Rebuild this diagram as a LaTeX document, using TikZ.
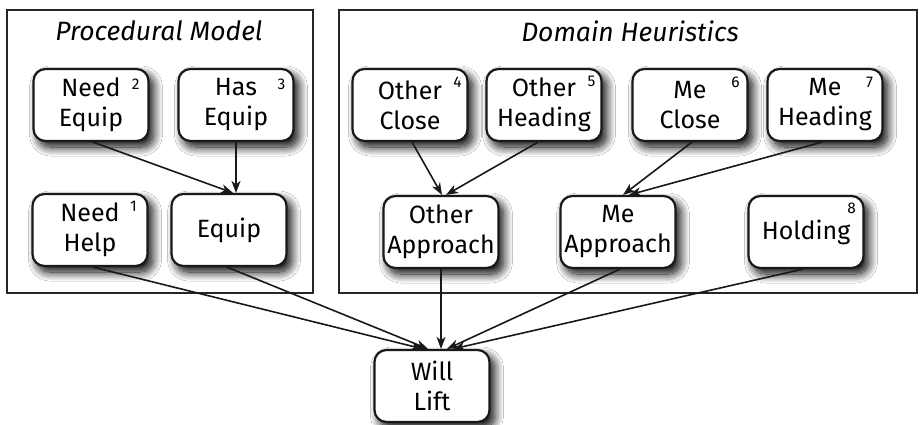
\documentclass[tikz,border=0pt]{standalone}
\usepackage{fontspec}
\setmainfont{Fira Sans}
\usetikzlibrary{arrows.meta,shadows.blur}
\begin{document}
\begin{tikzpicture}[x=1pt,y=-1pt,
  every node/.style={font=\fontsize{25}{30}\selectfont},
  frame/.style={draw=black!85, line width=2pt},
  title/.style={font=\itshape\fontsize{26.5}{30}\selectfont, inner sep=0pt},
  box/.style={draw=black!90, line width=2.2pt, fill=white, rounded corners=12pt,
    minimum width=115pt, minimum height=72pt, align=center, inner sep=1pt,
    blur shadow={shadow xshift=5pt, shadow yshift=-6pt, shadow blur radius=9pt, shadow opacity=100, shadow blur steps=15}},
  num/.style={font=\fontsize{15.5}{15.5}\selectfont, inner sep=0pt},
  arr/.style={line width=1.6pt, draw=black!90, -{Stealth[length=12pt,width=9pt,inset=3.5pt]}}
]
\useasboundingbox (0,0) rectangle (920,424);
\fill[white] (0,0) rectangle (920,424);

\draw[frame] (7,10) rectangle (313,293);
\draw[frame] (339,10) rectangle (917,293);
\node[title] (t1) at (159,31) {Procedural Model};
\node[title] (t2) at (630,31) {Domain Heuristics};

\node[box] (needequip) at (91,105) {Need\\Equip};
\node[box] (hasequip) at (236,105) {Has\\Equip};
\node[box] (needhelp) at (90,230) {Need\\Help};
\node[box] (equip) at (229,230) {Equip};

\node[box] (otherclose) at (410,105) {Other\\Close};
\node[box] (otherheading) at (544,105) {Other\\Heading};
\node[box] (meclose) at (690,105) {Me\\Close};
\node[box] (meheading) at (825,105) {Me\\Heading};

\node[box] (otherapproach) at (441,232) {Other\\Approach};
\node[box] (meapproach) at (618,232) {Me\\Approach};
\node[box] (holding) at (806,232) {Holding};

\node[box] (willlift) at (432,386) {Will\\Lift};

\node[num] (n2) at ([xshift=-14pt,yshift=-16pt]needequip.north east) {2};
\node[num] (n3) at ([xshift=-13pt,yshift=-16pt]hasequip.north east) {3};
\node[num] (n1) at ([xshift=-15pt,yshift=-13pt]needhelp.north east) {1};
\node[num] (n4) at ([xshift=-11pt,yshift=-14pt]otherclose.north east) {4};
\node[num] (n5) at ([xshift=-11pt,yshift=-14pt]otherheading.north east) {5};
\node[num] (n6) at ([xshift=-13pt,yshift=-14pt]meclose.north east) {6};
\node[num] (n7) at ([xshift=-14pt,yshift=-14pt]meheading.north east) {7};
\node[num] (n8) at ([xshift=-13pt,yshift=-13pt]holding.north east) {8};

\draw[arr] ([xshift=2pt]needequip.south) -- ([xshift=4pt]equip.north);
\draw[arr] (hasequip.south) -- (hasequip.south |- equip.north);
\draw[arr] ([xshift=2pt]otherclose.south) -- ([xshift=1pt]otherapproach.north);
\draw[arr] ([xshift=-6pt]otherheading.south) -- ([xshift=5pt]otherapproach.north);
\draw[arr] ([xshift=2pt]meclose.south) -- ([xshift=5pt]meapproach.north);
\draw[arr] ([xshift=-3pt]meheading.south) -- ([xshift=11pt]meapproach.north);

\draw[arr] ([xshift=3pt]needhelp.south) -- ([xshift=-9pt]willlift.north);
\draw[arr] ([xshift=-2pt]equip.south) -- ([xshift=-4pt]willlift.north);
\draw[arr] (otherapproach.south) -- (otherapproach.south |- willlift.north);
\draw[arr] ([xshift=2pt]meapproach.south) -- ([xshift=15pt]willlift.north);
\draw[arr] ([xshift=-3pt]holding.south) -- ([xshift=21pt]willlift.north);
\end{tikzpicture}
\end{document}
